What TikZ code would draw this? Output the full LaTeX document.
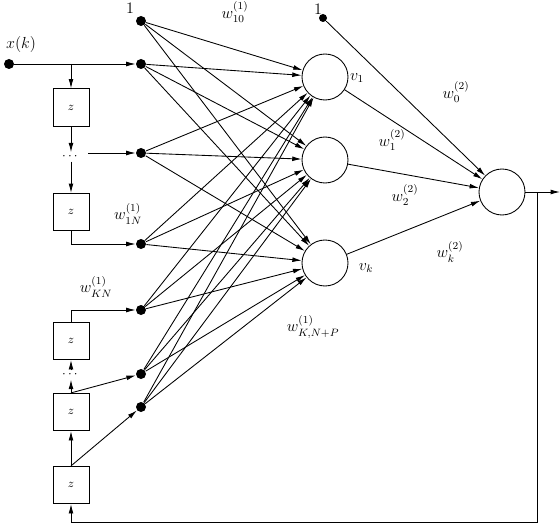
\documentclass[tikz,border=0pt]{standalone}
\usepackage{amsmath}
\usepackage{amsfonts}
\usetikzlibrary{arrows.meta}

\tikzset{
	>={Latex[length=7pt,width=3.6pt]},
	every path/.style={line width=0.65pt},
	dot/.style={circle, fill=black, inner sep=0pt, minimum size=7.5pt},
	neuron/.style={circle, draw, inner sep=0pt, minimum size=34.5pt},
	delay/.style={draw, inner sep=0pt, minimum width=27pt, minimum height=28pt, font=\small},
	wlabel/.style={inner sep=1pt, font=\large}
}

\begin{document}
\begin{tikzpicture}[x=0.75pt, y=-0.75pt]
		\useasboundingbox (0,0) rectangle (560,524);
		% inputs of the hidden layer
		\node[dot] (b0) at (141,21) {};
		\node[dot] (x0) at (141,64) {};
		\node[dot] (xm) at (141,153) {};
		\node[dot] (x1n) at (141,244) {};
		\node[dot] (xkn) at (141,310) {};
		\node[dot] (xp) at (141,374) {};
		\node[dot] (xq) at (141,407) {};
		\node[dot] (xin) at (9,64) {};
		\node[dot, minimum size=6pt] (b2) at (323,18) {};
		% tapped delay lines
		\node[delay] (z1) at (71,107.5) {$z$};
		\node[delay] (z2) at (71,212) {$z$};
		\node[delay] (z3) at (71,341) {$z$};
		\node[delay] (z4) at (71,412) {$z$};
		\node[delay] (z5) at (71,485) {$z$};
		\node[inner sep=1pt] (d1) at (71,157) {$\cdots$};
		\node[inner sep=1pt] (d2) at (71,375) {$\cdots$};
		% neurons
		\node[neuron] (h1) at (325,77) {};
		\node[neuron] (h2) at (325,160) {};
		\node[neuron] (hk) at (325,263) {};
		\node[neuron] (out) at (502,192) {};
		\coordinate (br) at (71,64);
		\coordinate (m0) at (88,153);
		\coordinate (tap) at (537,192);
		\coordinate (yk) at (560,192);
		\coordinate (fb) at (537,522);
		% labels
		\node[wlabel] (one1) at (130,8) {$1$};
		\node[wlabel] (one2) at (318,9) {$1$};
		\node[wlabel] (xlab) at (21,45) {$x(k)$};
		\node[wlabel] (w10) at (235,12) {$w_{10}^{(1)}$};
		\node[wlabel] (w1n) at (128,214) {$w_{1N}^{(1)}$};
		\node[wlabel] (wkn) at (96,287) {$w_{KN}^{(1)}$};
		\node[wlabel] (wknp) at (313,327) {$w_{K,N+P}^{(1)}$};
		\node[wlabel] (v1) at (357,78) {$v_1$};
		\node[wlabel] (vk) at (366,268) {$v_k$};
		\node[wlabel] (w0) at (456,92) {$w_0^{(2)}$};
		\node[wlabel] (w1) at (392,140) {$w_1^{(2)}$};
		\node[wlabel] (w2) at (405,195) {$w_2^{(2)}$};
		\node[wlabel] (wk) at (450,252) {$w_k^{(2)}$};
		% delay lines
		\draw[->] (xin) -- (x0);
		\draw[->] (br) -- (z1);
		\draw[->] (z1) -- (d1);
		\draw[->] (d1) -- (z2);
		\draw[->] (m0) -- (xm);
		\draw[->] (z2.south) |- (x1n);
		\draw[->] (z3.north) |- (xkn);
		\draw[->] (z4.north) -- (d2);
		\draw[->] (d2) -- (z3.south);
		\draw[->] (z4.north) -- (xp);
		\draw[->] (z5.north) -- (z4.south);
		\draw[->] (z5.north) -- (xq);
		% weights
		\foreach \i in {b0,x0,xm,x1n,xkn,xp,xq}
			\foreach \j in {h1,h2,hk}
				\draw[->] (\i) -- (\j);
		\foreach \j in {h1,h2,hk}
			\draw[->] (\j) -- (out);
		\draw[->] (b2) -- (out);
		\draw[->] (out) -- (yk);
		\draw[->] (tap) -- (fb) -| (z5.south);
	\end{tikzpicture}
\end{document}
